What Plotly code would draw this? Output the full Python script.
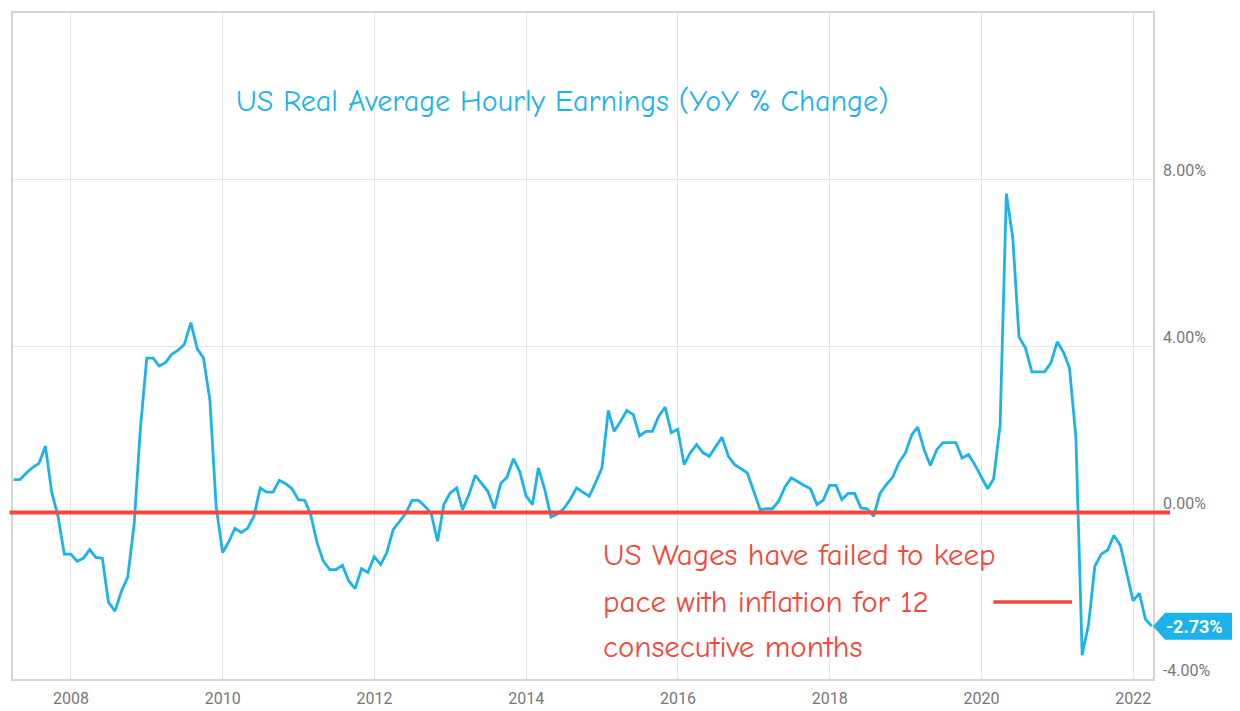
import pandas as pd
import plotly.graph_objects as go

# monthly YoY % change, month-end dates Mar 2007 .. Mar 2022
start_date = "2007-03-31"
yoy = [
    0.79, 0.79, 0.95, 1.08, 1.18, 1.60, 0.50, -0.10, -1.00, -1.00,
    -1.17, -1.10, -0.89, -1.08, -1.10, -2.16, -2.37, -1.89, -1.56, -0.30,
    2.00, 3.71, 3.71, 3.52, 3.60, 3.80, 3.90, 4.04, 4.56, 3.93,
    3.71, 2.70, 0.14, -0.96, -0.69, -0.38, -0.48, -0.38, -0.09, 0.59,
    0.49, 0.49, 0.77, 0.69, 0.57, 0.31, 0.29, -0.05, -0.73, -1.17,
    -1.37, -1.37, -1.27, -1.65, -1.83, -1.35, -1.44, -1.06, -1.25, -0.97,
    -0.41, -0.21, -0.02, 0.29, 0.29, 0.15, -0.02, -0.69, 0.19, 0.47,
    0.59, 0.07, 0.43, 0.89, 0.71, 0.51, 0.09, 0.70, 0.85, 1.29,
    0.99, 0.40, 0.19, 1.07, 0.55, -0.11, -0.03, 0.09, 0.31, 0.59,
    0.49, 0.39, 0.71, 1.07, 2.45, 1.95, 2.19, 2.45, 2.35, 1.84,
    1.95, 1.95, 2.31, 2.53, 1.92, 2.00, 1.15, 1.43, 1.63, 1.44,
    1.35, 1.57, 1.81, 1.35, 1.15, 1.05, 0.95, 0.51, 0.07, 0.09,
    0.09, 0.27, 0.62, 0.83, 0.75, 0.65, 0.57, 0.19, 0.29, 0.65,
    0.65, 0.31, 0.46, 0.46, 0.11, 0.09, -0.09, 0.46, 0.67, 0.85,
    1.20, 1.43, 1.87, 2.05, 1.51, 1.13, 1.51, 1.68, 1.68, 1.68,
    1.31, 1.39, 1.15, 0.85, 0.57, 0.81, 2.10, 7.66, 6.60, 4.22,
    3.95, 3.38, 3.38, 3.38, 3.59, 4.10, 3.84, 3.47, 1.80, -3.43,
    -2.68, -1.29, -1.00, -0.90, -0.55, -0.79, -1.44, -2.12, -1.94, -2.56,
    -2.73,
]
year_ticks = ["2008", "2010", "2012", "2014", "2016", "2018", "2020", "2022"]
pct_ticks = [-4, 0, 4, 8]

title_text = "US Real Average Hourly Earnings (YoY % Change)"
note_lines = ["US Wages have failed to keep", "pace with inflation for 12", "consecutive months"]
note_y = [-1.03, -2.16, -3.23]
pointer_y = -2.15

dates = pd.date_range(start_date, periods=len(yoy), freq=pd.offsets.MonthEnd())
last_val = yoy[-1]

BLUE = "#1bb3e9"
RED = "#f2473a"
HAND = "Comic Sans MS, Comic Neue, Lato, sans-serif"
TICKFONT = dict(family="Roboto", size=16, color="#777777")

fig = go.Figure()
fig.add_trace(go.Scatter(x=dates, y=yoy, mode="lines",
                         line=dict(color=BLUE, width=2.8), hoverinfo="skip",
                         showlegend=False))

shapes = []
# red zero line
shapes.append(dict(type="line", xref="paper", yref="y", x0=-0.003, x1=1.015,
                   y0=0, y1=0, line=dict(color=RED, width=4), layer="above"))
# short pointer dash
shapes.append(dict(type="line", xref="paper", yref="y", x0=0.860, x1=0.929,
                   y0=pointer_y, y1=pointer_y, line=dict(color=RED, width=3.5)))
# last value tag
shapes.append(dict(type="path", xref="paper", yref="y", xsizemode="pixel",
                   ysizemode="pixel", xanchor=1, yanchor=last_val,
                   path="M0,0 L12,13.5 L86,13.5 L86,-13.5 L12,-13.5 Z",
                   fillcolor=BLUE, line=dict(width=0)))

annotations = [
    dict(text=title_text, xref="paper", yref="paper", x=0.194, y=0.867,
         xanchor="left", yanchor="middle", showarrow=False,
         font=dict(family=HAND, size=30, color=BLUE)),
    dict(text="<b>%.2f%%</b>" % last_val, xref="paper", yref="y", x=1, y=last_val,
         xanchor="left", yanchor="middle", xshift=11, showarrow=False,
         font=dict(family="Roboto", size=18, color="white")),
]
for line_txt, yy in zip(note_lines, note_y):
    annotations.append(dict(text=line_txt, xref="paper", yref="y", x=0.516, y=yy,
                            xanchor="left", yanchor="middle", showarrow=False,
                            font=dict(family=HAND, size=31, color=RED)))

# page body adds an 8px margin, so the figure is sized 8px smaller
fig.update_layout(
    width=1232, height=703,
    margin=dict(l=3, r=87, t=4, b=31),
    paper_bgcolor="white", plot_bgcolor="white",
    shapes=shapes, annotations=annotations,
    xaxis=dict(range=["2007-03-28", "2022-04-06"],
               tickvals=[pd.Timestamp(y + "-01-01") for y in year_ticks],
               ticktext=year_ticks,
               ticklabelstandoff=4,
               showgrid=True, gridcolor="#e6e6e6", gridwidth=1,
               showline=True, linecolor="#d4d4d4", linewidth=1.5, mirror=True,
               zeroline=False, tickfont=TICKFONT),
    yaxis=dict(range=[-4, 12], side="right",
               tickvals=pct_ticks,
               ticktext=["%.2f%%" % v for v in pct_ticks],
               ticklabelshift=-9, ticklabelstandoff=5,
               showgrid=True, gridcolor="#e6e6e6", gridwidth=1,
               showline=True, linecolor="#d4d4d4", linewidth=1.5, mirror=True,
               zeroline=False, tickfont=TICKFONT),
)

fig.write_html("out.html")
